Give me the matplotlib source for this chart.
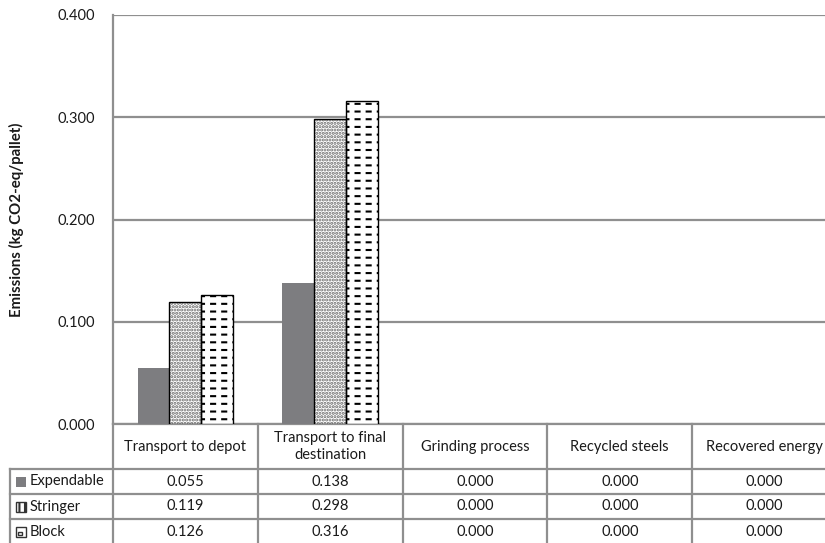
import numpy as np
import matplotlib
matplotlib.use('Agg')
import matplotlib.pyplot as plt
import matplotlib.hatch as mhatch
from matplotlib.path import Path
from matplotlib.patches import Rectangle
from matplotlib.lines import Line2D
import matplotlib.transforms as mtransforms

# emissions per pallet for each life-cycle stage
stages = ['Transport to depot', 'Transport to final\ndestination',
          'Grinding process', 'Recycled steels', 'Recovered energy']
series_names = ['Expendable', 'Stringer', 'Block']
expendable = [0.055, 0.138, 0.000, 0.000, 0.000]
stringer = [0.119, 0.298, 0.000, 0.000, 0.000]
block = [0.126, 0.316, 0.000, 0.000, 0.000]
yticks = [0.0, 0.1, 0.2, 0.3, 0.4]


# '-' hatch drawn as short dashes instead of full lines
class DashedHorizontalHatch(mhatch.HatchPatternBase):
    def __init__(self, hatch, density):
        self.num_lines = int(hatch.count('-') * density * 1.1)
        self.num_dashes = 9
        self.num_vertices = self.num_lines * self.num_dashes * 2

    def set_vertices_and_codes(self, vertices, codes):
        ys = (np.arange(self.num_lines) + 0.5) / self.num_lines
        xs = np.arange(self.num_dashes) / self.num_dashes
        dash = 0.36 / self.num_dashes
        yy, xx = np.meshgrid(ys, xs, indexing='ij')
        yy = yy.ravel()
        xx = xx.ravel()
        vertices[0::2, 0] = xx
        vertices[0::2, 1] = yy
        vertices[1::2, 0] = xx + dash
        vertices[1::2, 1] = yy
        codes[0::2] = Path.MOVETO
        codes[1::2] = Path.LINETO


mhatch._hatch_types = [DashedHorizontalHatch if t is mhatch.HorizontalHatch else t
                       for t in mhatch._hatch_types]

plt.rcParams['font.family'] = ['Lato', 'DejaVu Sans']
plt.rcParams['hatch.linewidth'] = 1.5

W, H = 825, 543
grid_col = '#8f8f8f'
txt_col = '#1a1a1a'
fs = 10.5
fig = plt.figure(figsize=(W / 100, H / 100), dpi=100)


def fy(px):
    return 1 - px / H


ax_left, ax_right, ax_top, ax_bot = 113, 837, 15, 424
ax = fig.add_axes([ax_left / W, fy(ax_bot), (ax_right - ax_left) / W, (ax_bot - ax_top) / H])

x = np.arange(len(stages))
w = 0.22
bars = []
bars.append(ax.bar(x - w, expendable, w, color='#7d7d80', zorder=3))
# dots in grey, outline drawn on top in black
bars.append(ax.bar(x, stringer, w, color='white', edgecolor='#6a6a6a', linewidth=0,
                   hatch='.....', zorder=3))
bars.append(ax.bar(x, stringer, w, fill=False, edgecolor='black', linewidth=1.0, zorder=4))
bars.append(ax.bar(x + w, block, w, color='white', edgecolor='black', linewidth=1.0,
                   hatch='--', zorder=3))
# zero-height bars leave no mark
for bc in bars:
    for p in bc.patches:
        if p.get_height() == 0:
            p.set_visible(False)

ax.set_xlim(-0.5, len(stages) - 0.5)
ax.set_ylim(0, 0.4)
ax.set_yticks(yticks)
ax.set_yticklabels(['%.3f' % v for v in yticks])
ax.tick_params(axis='y', length=0, pad=13, labelsize=fs, colors=txt_col)
ax.set_xticks([])
ax.yaxis.grid(True, color=grid_col, linewidth=1.6, zorder=0)
ax.set_axisbelow(True)
for s in ['top', 'right']:
    ax.spines[s].set_visible(False)
for s in ['left', 'bottom']:
    ax.spines[s].set_color(grid_col)
    ax.spines[s].set_linewidth(1.6)
ax.set_ylabel('Emissions (kg CO2-eq/pallet)', fontsize=10.8, fontweight='bold',
              labelpad=24, color=txt_col)

# data table under the plot
trans = mtransforms.blended_transform_factory(ax.transData, fig.transFigure)
head_bot = 469
row_h = 25
label_left = -0.5 - (ax_left - 10) / 145.0
table_bot = head_bot + row_h * len(series_names)


def hline(ypx, x0, x1):
    fig.add_artist(Line2D([x0, x1], [fy(ypx), fy(ypx)], transform=trans,
                          color=grid_col, linewidth=1.6, clip_on=False))


def vline(xd, y0, y1):
    fig.add_artist(Line2D([xd, xd], [fy(y0), fy(y1)], transform=trans,
                          color=grid_col, linewidth=1.6, clip_on=False))


for b in np.arange(len(stages) + 1) - 0.5:
    vline(b, ax_bot, table_bot)
vline(label_left, head_bot, table_bot)
for r in range(len(series_names) + 1):
    hline(head_bot + r * row_h, label_left, len(stages) - 0.5)

for i, st in enumerate(stages):
    fig.text(i, fy((ax_bot + head_bot) / 2), st, transform=trans, ha='center',
             va='center', fontsize=fs, color=txt_col, linespacing=1.35)

values = [expendable, stringer, block]
for r, (name, vals) in enumerate(zip(series_names, values)):
    yc = fy(head_bot + row_h * (r + 0.5))
    for i, v in enumerate(vals):
        fig.text(i, yc, '%.3f' % v, transform=trans, ha='center', va='center',
                 fontsize=fs, color=txt_col)
    fig.text(30 / W, yc, name, ha='left', va='center', fontsize=fs, color=txt_col)

# legend keys in the row labels
sw = 10
key_styles = [dict(facecolor='#7d7d80', edgecolor='none'),
              dict(facecolor='white', edgecolor='#333333', hatch='+++'),
              dict(facecolor='white', edgecolor='#333333')]
for r, st in enumerate(key_styles):
    yc = head_bot + row_h * (r + 0.5)
    fig.add_artist(Rectangle((16 / W, fy(yc + sw / 2)), sw / W, sw / H,
                             transform=fig.transFigure, linewidth=1.0, **st))
# small inner mark of the block key
yk = head_bot + row_h * 2.5
fig.add_artist(Rectangle((18 / W, fy(yk + 3)), 4 / W, 3 / H, transform=fig.transFigure,
                         facecolor='white', edgecolor='#333333', linewidth=1.0))

fig.savefig('out.png', dpi=100)
